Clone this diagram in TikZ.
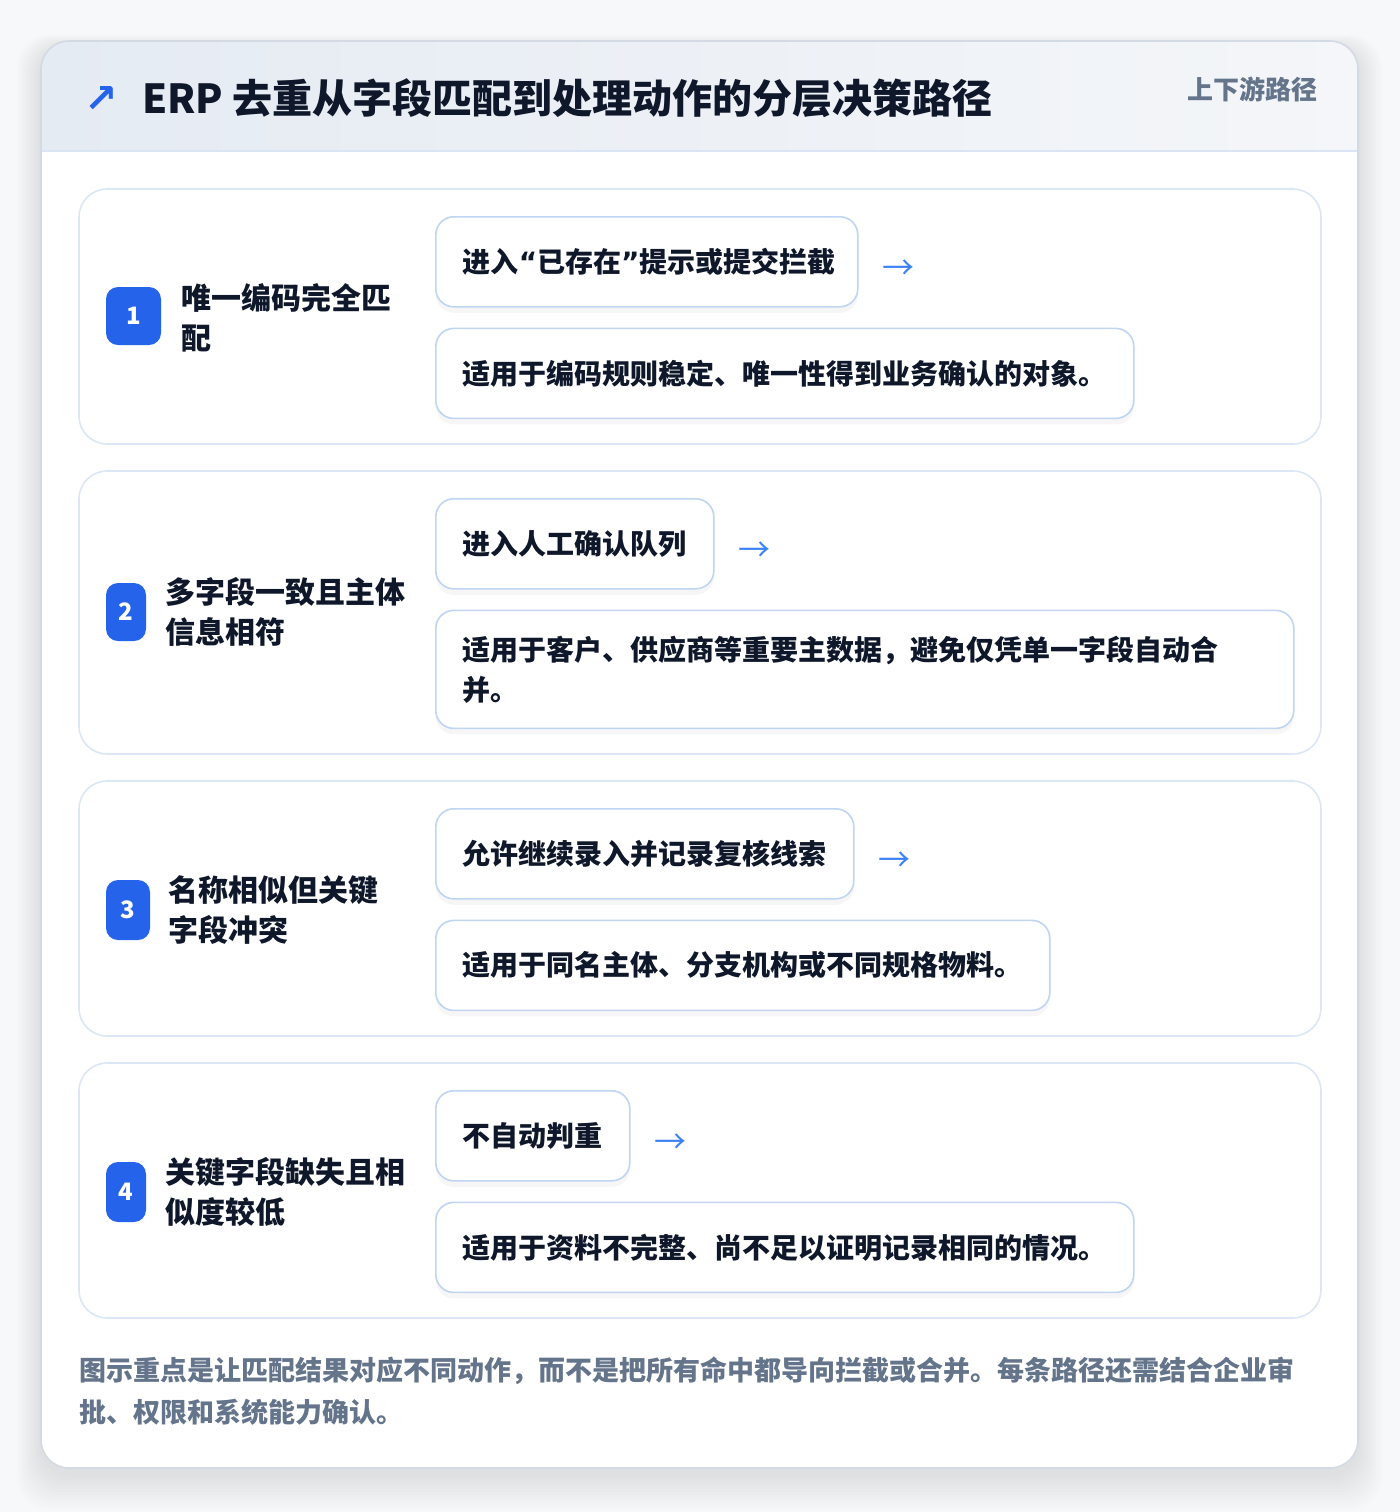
\documentclass[tikz,border=0pt]{standalone}
\usepackage{fontspec}
\setmainfont{Noto Sans CJK SC}
\newfontfamily\symfont{DejaVu Sans}
\newcommand\openq{{\symfont\bfseries “}}
\newcommand\closeq{{\symfont\bfseries ”}}
\usetikzlibrary{positioning,shadows}

\definecolor{pagebg}{HTML}{F7F8FA}
\definecolor{cardline}{HTML}{D3DAE4}
\definecolor{headleft}{HTML}{E5EBF3}
\definecolor{headright}{HTML}{F4F6F9}
\definecolor{headline}{HTML}{D9E5F5}
\definecolor{titleink}{HTML}{0F172A}
\definecolor{mutedink}{HTML}{64748B}
\definecolor{badgeblue}{HTML}{2563EB}
\definecolor{arrowblue}{HTML}{3B82F6}
\definecolor{rowline}{HTML}{DCE7F6}
\definecolor{boxline}{HTML}{BFD5F3}

\tikzset{
  rowcard/.style={draw=rowline, fill=white, rounded corners=14pt, line width=0.8pt},
  badge/.style={fill=badgeblue, rounded corners=6pt, text=white, inner sep=0pt,
    minimum height=29pt, font=\bfseries\fontsize{12}{12}\selectfont},
  steplabel/.style={anchor=west, align=left, inner sep=0pt, text=titleink,
    font=\bfseries\fontsize{15}{20}\selectfont},
  actbox/.style={draw=boxline, fill=white, rounded corners=9pt, line width=0.8pt,
    anchor=north west, minimum height=45pt, inner xsep=13.5pt, inner ysep=0pt,
    text=titleink, font=\bfseries\fontsize{14}{20}\selectfont,
    drop shadow={shadow xshift=0pt, shadow yshift=-3pt, opacity=0.035, fill=black}},
  flowarrow/.style={text=arrowblue, inner sep=0pt, font=\fontsize{16}{16}\selectfont},
}

\begin{document}
\begin{tikzpicture}[x=0.5pt, y=-0.5pt]
  \useasboundingbox (0,0) rectangle (1400,1512);
  \fill[pagebg] (0,0) rectangle (1400,1512);

  % card with soft shadow
  \foreach \k in {1,...,12}
    \fill[black, opacity=0.008, rounded corners=16pt]
      ({41-2*\k},{47-\k}) rectangle ({1358+2*\k},{1474+3*\k});
  \fill[white, rounded corners=14pt] (41,41) rectangle (1358,1468);
  \begin{scope}
    \clip[rounded corners=14pt] (41,41) rectangle (1358,1468);
    \shade[left color=headleft, right color=headright] (41,41) rectangle (1358,151);
  \end{scope}
  \draw[headline, line width=0.8pt] (41,151) -- (1358,151);
  \draw[cardline, line width=0.8pt, rounded corners=14pt] (41,41) rectangle (1358,1468);

  % header
  \node[text=badgeblue, inner sep=0pt, font=\symfont\bfseries\fontsize{20}{20}\selectfont] (icon) at (101,99) {↗};
  \node[anchor=west, inner sep=0pt, text=titleink, font=\bfseries\fontsize{20}{20}\selectfont] (title) at (142,98)
    {ERP 去重从字段匹配到处理动作的分层决策路径};
  \node[anchor=east, inner sep=0pt, text=mutedink, font=\bfseries\fontsize{13}{13}\selectfont] (tag) at (1318,89) {上下游路径};

  % row cards
  \draw[rowcard] (79,189) rectangle (1321,444);
  \draw[rowcard] (79,471) rectangle (1321,754);
  \draw[rowcard] (79,781) rectangle (1321,1036);
  \draw[rowcard] (79,1063) rectangle (1321,1318);

  % row 1
  \node[badge, minimum width=27.5pt] (b1) at (133.5,316) {1};
  \node[steplabel] (lab1) at (181,318) {唯一编码完全匹\\配};
  \node[actbox] (act1) at (435,216) {\makebox[184pt][l]{进入\openq 已存在\closeq 提示或提交拦截}};
  \node[flowarrow, right=11.5pt of act1, yshift=-4pt] (arr1) {→};
  \node[actbox, below=10pt of act1.south west, anchor=north west] (desc1)
    {\makebox[322pt][l]{适用于编码规则稳定、唯一性得到业务确认的对象。}};

  % row 2
  \node[badge, minimum width=20pt] (b2) at (126,612) {2};
  \node[steplabel] (lab2) at (165,612) {多字段一致且主体\\信息相符};
  \node[actbox] (act2) at (435,498) {\makebox[112pt][l]{进入人工确认队列}};
  \node[flowarrow, right=11.5pt of act2, yshift=-4pt] (arr2) {→};
  \node[actbox, below=10pt of act2.south west, anchor=north west, minimum height=59pt,
    text width=402pt, align=left] (desc2)
    {适用于客户、供应商等重要主数据，避免仅凭单一字段自动合\\并。};

  % row 3
  \node[badge, minimum width=22pt, minimum height=30pt] (b3) at (128,910) {3};
  \node[steplabel] (lab3) at (168,910) {名称相似但关键\\字段冲突};
  \node[actbox] (act3) at (435,808) {\makebox[182pt][l]{允许继续录入并记录复核线索}};
  \node[flowarrow, right=11.5pt of act3, yshift=-4pt] (arr3) {→};
  \node[actbox, below=10pt of act3.south west, anchor=north west] (desc3)
    {\makebox[280pt][l]{适用于同名主体、分支机构或不同规格物料。}};

  % row 4
  \node[badge, minimum width=20pt, minimum height=30pt] (b4) at (126,1192) {4};
  \node[steplabel] (lab4) at (165,1192) {关键字段缺失且相\\似度较低};
  \node[actbox] (act4) at (435,1090) {\makebox[70pt][l]{不自动判重}};
  \node[flowarrow, right=11.5pt of act4, yshift=-4pt] (arr4) {→};
  \node[actbox, below=10pt of act4.south west, anchor=north west] (desc4)
    {\makebox[322pt][l]{适用于资料不完整、尚不足以证明记录相同的情况。}};

  % footnote
  \node[anchor=west, align=left, inner sep=0pt, text=mutedink, font=\bfseries\fontsize{13.5}{21}\selectfont] (note) at (79,1391)
    {图示重点是让匹配结果对应不同动作，而不是把所有命中都导向拦截或合并。每条路径还需结合企业审\\批、权限和系统能力确认。};
\end{tikzpicture}
\end{document}
